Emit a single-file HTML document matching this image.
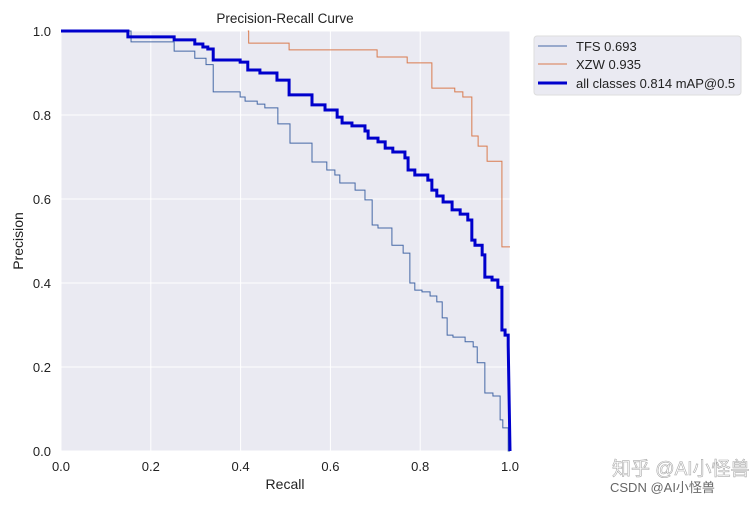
<!DOCTYPE html>
<html><head><meta charset="utf-8"><style>
body{margin:0;background:#fff;width:752px;height:502px;overflow:hidden;font-family:"Liberation Sans","Noto Sans CJK SC",sans-serif;}
</style></head><body>
<svg id="chart" width="752" height="502" xmlns="http://www.w3.org/2000/svg" font-family="Liberation Sans, Noto Sans CJK SC, sans-serif">
<rect x="61" y="31" width="449" height="420" fill="#eaeaf2"/>
<g id="grid"></g>
<g id="series"></g>
<g id="ticks"></g>
<text x="285" y="23" text-anchor="middle" font-size="13.5" fill="#222">Precision-Recall Curve</text>
<text x="285" y="489" text-anchor="middle" font-size="14" fill="#222">Recall</text>
<text x="23" y="241" text-anchor="middle" font-size="14" fill="#222" transform="rotate(-90 23 241)">Precision</text>
<g>
<rect x="534" y="36" width="207" height="59" rx="3" fill="#eaeaf2" stroke="#ddd"/>
<line x1="538" y1="46" x2="567" y2="46" stroke="#4568a6" stroke-width="1"/>
<text x="576" y="51" font-size="13" fill="#222">TFS 0.693</text>
<line x1="538" y1="64" x2="567" y2="64" stroke="#d97b4e" stroke-width="1"/>
<text x="576" y="69" font-size="13" fill="#222">XZW 0.935</text>
<line x1="538" y1="83" x2="567" y2="83" stroke="#0000cc" stroke-width="3"/>
<text x="576" y="88" font-size="13" fill="#222">all classes 0.814 mAP@0.5</text>
</g>
<text x="612" y="475" font-size="19" fill="#ffffff" stroke="#aaa" stroke-width="0.6">知乎 @AI小怪兽</text>
<text x="610" y="492" font-size="13" fill="#666">CSDN @AI小怪兽</text>
</svg>
<script>
const tickValues=[0,0.2,0.4,0.6,0.8,1.0];
const tickLabels=["0.0","0.2","0.4","0.6","0.8","1.0"];
const tfsRecall=[0,.156,.252,.298,.323,.339,.399,.410,.437,.454,.483,.510,.559,.592,.610,.621,.655,.677,.693,.706,.737,.762,.777,.788,.804,.822,.837,.849,.860,.873,.900,.918,.927,.944,.962,.978,.984,.996];
const tfsPrecision=[1,.974,.952,.935,.92,.855,.843,.833,.826,.817,.779,.733,.688,.669,.657,.638,.621,.598,.538,.531,.49,.471,.40,.383,.379,.369,.355,.317,.276,.271,.26,.248,.21,.138,.131,.074,.055,0];
const xzwRecall=[.416,.418,.508,.704,.771,.826,.877,.895,.915,.929,.949,.982];
const xzwPrecision=[1,.971,.955,.938,.924,.864,.855,.843,.75,.726,.69,.486];
const allRecall=[0,.149,.252,.298,.316,.327,.339,.399,.416,.443,.481,.508,.559,.588,.615,.626,.648,.677,.684,.706,.722,.739,.766,.773,.788,.817,.826,.837,.851,.871,.889,.906,.915,.922,.938,.944,.960,.973,.982,.989,.996];
const allPrecision=[1,.986,.979,.969,.962,.957,.931,.926,.907,.9,.883,.848,.824,.812,.795,.781,.774,.762,.745,.736,.721,.712,.698,.669,.657,.645,.621,.607,.593,.574,.564,.55,.502,.49,.467,.414,.407,.39,.288,.276,.252];

const NS="http://www.w3.org/2000/svg";
const X=r=>61+r*449, Y=p=>451-p*420;
const grid=document.getElementById('grid'), ticks=document.getElementById('ticks'), series=document.getElementById('series');
tickValues.forEach((v,i)=>{
  const gx=document.createElementNS(NS,'line');
  
  
  gx.setAttribute('x1',X(v));gx.setAttribute('x2',X(v));gx.setAttribute('y1',31);gx.setAttribute('y2',451);
  gx.setAttribute('stroke','#fff');gx.setAttribute('stroke-width','1');grid.appendChild(gx);
  const gy=document.createElementNS(NS,'line');
  
  
  gy.setAttribute('y1',Y(v));gy.setAttribute('y2',Y(v));gy.setAttribute('x1',61);gy.setAttribute('x2',510);
  gy.setAttribute('stroke','#fff');gy.setAttribute('stroke-width','1');grid.appendChild(gy);
  const tx=document.createElementNS(NS,'text');
  
  
  tx.setAttribute('x',X(v));tx.setAttribute('y',471);tx.setAttribute('text-anchor','middle');tx.setAttribute('font-size','13');tx.setAttribute('fill','#222');
  tx.textContent=tickLabels[i];ticks.appendChild(tx);
  const ty=document.createElementNS(NS,'text');
  
  
  ty.setAttribute('x',51);ty.setAttribute('y',Y(v)+5);ty.setAttribute('text-anchor','end');ty.setAttribute('font-size','13');ty.setAttribute('fill','#222');
  ty.textContent=tickLabels[i];ticks.appendChild(ty);
});
function stepPath(rs,ps,endR,endP){
  let d='M'+X(rs[0])+','+Y(ps[0]);
  for(let i=1;i<rs.length;i++){d+=' L'+X(rs[i])+','+Y(ps[i-1])+' L'+X(rs[i])+','+Y(ps[i]);}
  d+=' L'+X(endR)+','+Y(ps[ps.length-1]);
  if(endP!==null) d+=' L'+X(endR)+','+Y(endP);
  return d;
}
const tfs=document.createElementNS(NS,'path');


tfs.setAttribute('d',stepPath(tfsRecall,tfsPrecision,1,null));
tfs.setAttribute('fill','none');tfs.setAttribute('stroke','#4568a6');tfs.setAttribute('stroke-width','1');series.appendChild(tfs);
const xzw=document.createElementNS(NS,'path');


xzw.setAttribute('d',stepPath(xzwRecall,xzwPrecision,1,null));
xzw.setAttribute('fill','none');xzw.setAttribute('stroke','#d97b4e');xzw.setAttribute('stroke-width','1');series.appendChild(xzw);
const all=document.createElementNS(NS,'path');


let da=stepPath(allRecall,allPrecision,allRecall[allRecall.length-1],null)+' L'+X(1)+','+Y(0);
all.setAttribute('d',da);
all.setAttribute('fill','none');all.setAttribute('stroke','#0000cc');all.setAttribute('stroke-width','3');series.appendChild(all);
</script>
</body></html>
